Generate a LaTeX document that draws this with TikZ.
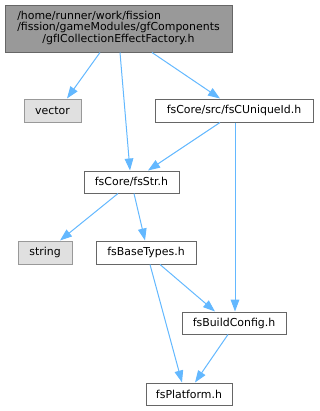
\documentclass[tikz,border=0pt]{standalone}
\usepackage{fontspec}
\setmainfont{DejaVu Sans}
\usetikzlibrary{arrows.meta}
\definecolor{edgeblue}{HTML}{63B8FF}
\definecolor{topfill}{HTML}{999999}
\definecolor{darkborder}{HTML}{666666}
\definecolor{sysfill}{HTML}{E0E0E0}
\definecolor{sysborder}{HTML}{999999}
\begin{document}
\begin{tikzpicture}[x=0.75pt,y=-0.75pt,
  filebox/.style={draw=darkborder,fill=white,line width=0.75pt,inner sep=0pt,minimum height=17.25pt,font=\fontsize{8.2pt}{8.75pt}\selectfont},
  sysbox/.style={filebox,draw=sysborder,fill=sysfill},
  topbox/.style={filebox,fill=topfill},
  dep/.style={draw=edgeblue,line width=0.75pt,-{Triangle[length=9pt,width=6.5pt]}}]
\useasboundingbox (0,0) rectangle (319,411);
\node[topbox,minimum width=170.25pt,minimum height=35.25pt] (top) at (118.5,28.5)
  {\renewcommand{\arraystretch}{1}\begin{tabular}{@{}l@{}}/home/runner/work/fission\\/fission/gameModules/gfComponents\\\multicolumn{1}{@{}c@{}}{/gfICollectionEffectFactory.h}\end{tabular}};
\node[sysbox,minimum width=42.75pt] (vector) at (52.5,110.5) {vector};
\node[filebox,minimum width=118.5pt] (uid) at (234,110.5) {fsCore/src/fsCUniqueId.h};
\node[filebox,minimum width=71.25pt,minimum height=16.5pt] (str) at (131.5,182) {fsCore/fsStr.h};
\node[sysbox,minimum width=40.5pt] (string) at (45,252.5) {string};
\node[filebox,minimum width=75pt] (base) at (146,252.5) {fsBaseTypes.h};
\node[filebox,minimum width=78pt,minimum height=16.5pt] (build) at (234,323) {fsBuildConfig.h};
\node[filebox,minimum width=64.5pt,minimum height=16.5pt] (plat) at (189,394) {fsPlatform.h};
\draw[dep] ([xshift=-13.875pt]top.south) -- ([xshift=10.875pt]vector.north);
\draw[dep] ([xshift=1.125pt]top.south) -- ([xshift=-1.125pt]str.north);
\draw[dep] ([xshift=25.125pt]top.south) -- ([xshift=-10.5pt]uid.north);
\draw[dep] ([xshift=-10.5pt]uid.south) -- ([xshift=12.375pt]str.north);
\draw[dep] ([xshift=0.75pt]uid.south) -- ([xshift=0.75pt]build.north);
\draw[dep] ([xshift=-10.125pt]str.south) -- ([xshift=11.25pt]string.north);
\draw[dep] ([xshift=1.875pt]str.south) -- ([xshift=-0.75pt]base.north);
\draw[dep] ([xshift=3pt]base.south) -- ([xshift=-5.25pt]plat.north);
\draw[dep] ([xshift=10.5pt]base.south) -- ([xshift=-14.25pt]build.north);
\draw[dep] ([xshift=-4.5pt]build.south) -- ([xshift=4.5pt]plat.north);
\end{tikzpicture}
\end{document}
